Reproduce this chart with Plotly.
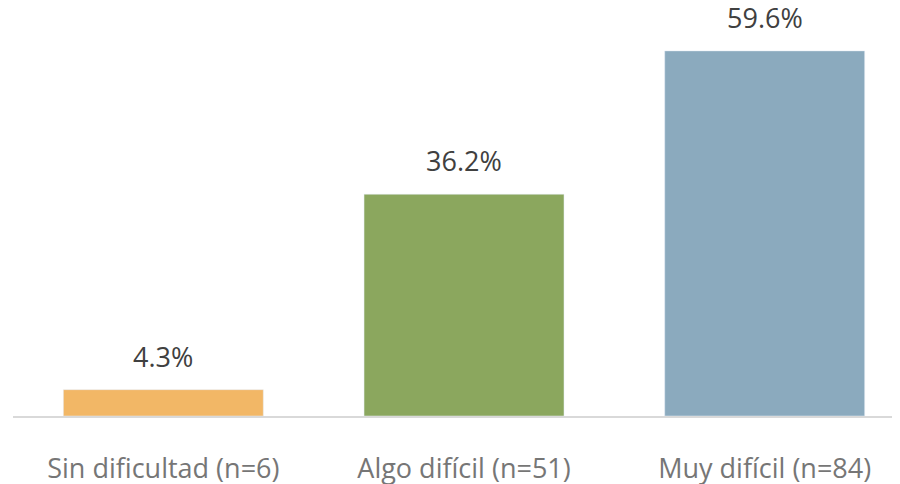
import plotly.graph_objects as go

categories = ["Sin dificultad (n=6)", "Algo difícil (n=51)", "Muy difícil (n=84)"]
values = [4.3, 36.2, 59.6]
labels = ["4.3%", "36.2%", "59.6%"]
colors = ["#F2B766", "#8BA75E", "#8BAABE"]

fig = go.Figure(go.Bar(x=categories, y=values, marker_color=colors, width=0.665,
                       hoverinfo="skip"))
for c, v, t in zip(categories, values, labels):
    fig.add_annotation(x=c, y=v, text=t, showarrow=False, yanchor="bottom", yshift=13,
                       font=dict(family="Open Sans", size=27, color="#404040"))

fig.update_layout(
    width=892, height=476, margin=dict(l=5, r=0, t=0, b=67.5),
    plot_bgcolor="white", paper_bgcolor="white", showlegend=False,
    xaxis=dict(range=[-0.5, 2.45], showline=True, linecolor="#D9D9D9", linewidth=2,
               tickfont=dict(family="Open Sans", size=27, color="#767676"),
               ticks="", ticklabelstandoff=28, showgrid=False, automargin=False),
    yaxis=dict(range=[0, 66.6], visible=False, showgrid=False, zeroline=False),
)
fig.write_html("out.html")
